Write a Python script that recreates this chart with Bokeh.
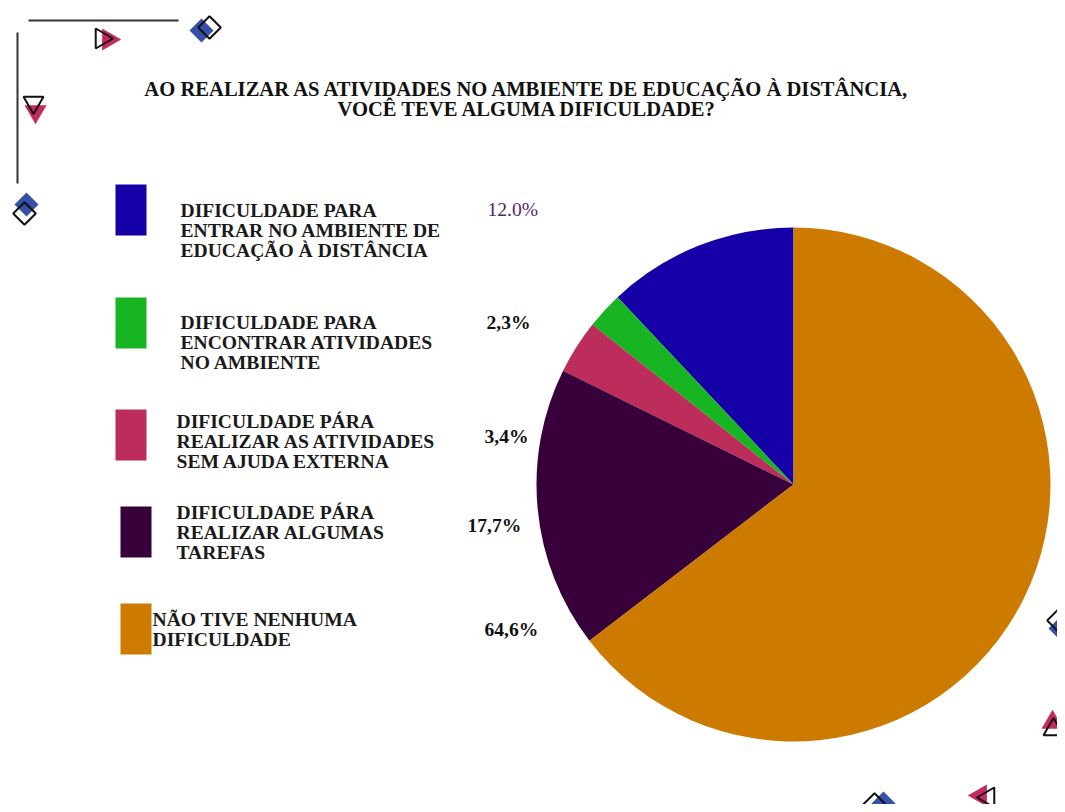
import math
from bokeh.plotting import figure
from bokeh.models import Range1d, ColumnDataSource
from bokeh.core.properties import value
from bokeh.embed import file_html
from bokeh.resources import INLINE

# ---------------- data ----------------
title_lines = ["AO REALIZAR AS ATIVIDADES NO AMBIENTE DE EDUCAÇÃO À DISTÂNCIA,",
               "VOCÊ TEVE ALGUMA DIFICULDADE?"]
categories = [
    ["DIFICULDADE PARA", "ENTRAR NO AMBIENTE DE", "EDUCAÇÃO À DISTÂNCIA"],
    ["DIFICULDADE PARA", "ENCONTRAR ATIVIDADES", "NO AMBIENTE"],
    ["DIFICULDADE PÁRA", "REALIZAR AS ATIVIDADES", "SEM AJUDA EXTERNA"],
    ["DIFICULDADE PÁRA", "REALIZAR ALGUMAS", "TAREFAS"],
    ["NÃO TIVE NENHUMA", "DIFICULDADE"],
]
values_pct = [12.0, 2.3, 3.4, 17.7, 64.6]
pct_labels = ["12.0%", "2,3%", "3,4%", "17,7%", "64,6%"]
colors = ["#1500A8", "#17B521", "#BC2D5C", "#38003A", "#CD7B00"]

# ---------------- layout (image pixel coords) ----------------
W, H = 1057, 804
def X(x): return x
def Y(y): return H - y

p = figure(width=W, height=H, x_range=Range1d(0, W), y_range=Range1d(0, H),
           output_backend="svg", toolbar_location=None,
           x_axis_type=None, y_axis_type=None, min_border=0)
p.grid.visible = False
p.outline_line_color = None
p.background_fill_color = "white"

# pie
total = sum(values_pct)
starts, ends = [], []
acc = 0.0
for v in values_pct:
    s = math.pi / 2 + 2 * math.pi * acc / total
    acc += v
    e = math.pi / 2 + 2 * math.pi * acc / total
    starts.append(s)
    ends.append(e)
src = ColumnDataSource(dict(start=starts, end=ends, color=colors))
p.wedge(x=X(793), y=Y(484), radius=257, start_angle="start", end_angle="end",
        direction="anticlock", fill_color="color", line_color=None, source=src)

# title
for i, t in enumerate(title_lines):
    p.text(x=[X(527)], y=[Y(88 + i * 20)], text=[t], text_align="center",
           text_baseline="middle", text_font=value("Liberation Serif"),
           text_font_style="bold", text_font_size="20.6px", text_color="#111111")

# legend swatches and labels
sw_x = [115, 115, 115, 120, 120]
sw_y = [184, 297, 409, 506, 603]
lab_x = [180, 180, 176, 176, 152]
lab_y = [210, 322, 421, 512, 619]
pct_x = [487, 486, 484, 467, 484]
pct_y = [209, 322, 436, 525, 629]
for i in range(len(values_pct)):
    p.quad(left=X(sw_x[i]), right=X(sw_x[i] + 31), top=Y(sw_y[i]), bottom=Y(sw_y[i] + 51),
           fill_color=colors[i], line_color=None)
    for j, line in enumerate(categories[i]):
        p.text(x=[X(lab_x[i])], y=[Y(lab_y[i] + 20 * j)], text=[line], text_align="left",
               text_baseline="middle", text_font=value("Liberation Serif"),
               text_font_style="bold", text_font_size="19.6px", text_color="#1a1a1a")
    p.text(x=[X(pct_x[i])], y=[Y(pct_y[i])], text=[pct_labels[i]], text_align="left",
           text_baseline="middle", text_font=value("Liberation Serif"),
           text_font_style="normal" if i == 0 else "bold", text_font_size="19.6px",
           text_color="#55226A" if i == 0 else "#111111")

# decorations
p.line(x=[X(28), X(178)], y=[Y(20), Y(20)], line_color="#333333", line_width=2)
p.line(x=[X(17), X(17)], y=[Y(32), Y(183)], line_color="#333333", line_width=2)

def diamond(bx, by, ox, oy):
    p.scatter(x=[X(bx)], y=[Y(by)], marker="square", size=17, angle=math.pi / 4,
              fill_color="#3550A8", line_color=None)
    p.scatter(x=[X(ox)], y=[Y(oy)], marker="square", size=16, angle=math.pi / 4,
              fill_color=None, line_color="#111111", line_width=2)

def tri(px_, py_, ox, oy, ang):
    p.scatter(x=[X(px_)], y=[Y(py_)], marker="triangle", size=22, angle=ang,
              fill_color="#C42A60", line_color=None)
    p.scatter(x=[X(ox)], y=[Y(oy)], marker="triangle", size=20, angle=ang,
              fill_color=None, line_color="#111111", line_width=2)

diamond(201, 30, 209, 27)
diamond(26, 204, 24, 213)
diamond(1060, 628, 1058, 620)
diamond(883, 803, 874, 804)
tri(108, 39, 101, 38, -math.pi / 2)
tri(35, 111, 33, 102, math.pi)
tri(1052, 722, 1053, 729, 0)
tri(980, 795, 988, 797, math.pi / 2)

open("out.html", "w").write(file_html(p, INLINE))
